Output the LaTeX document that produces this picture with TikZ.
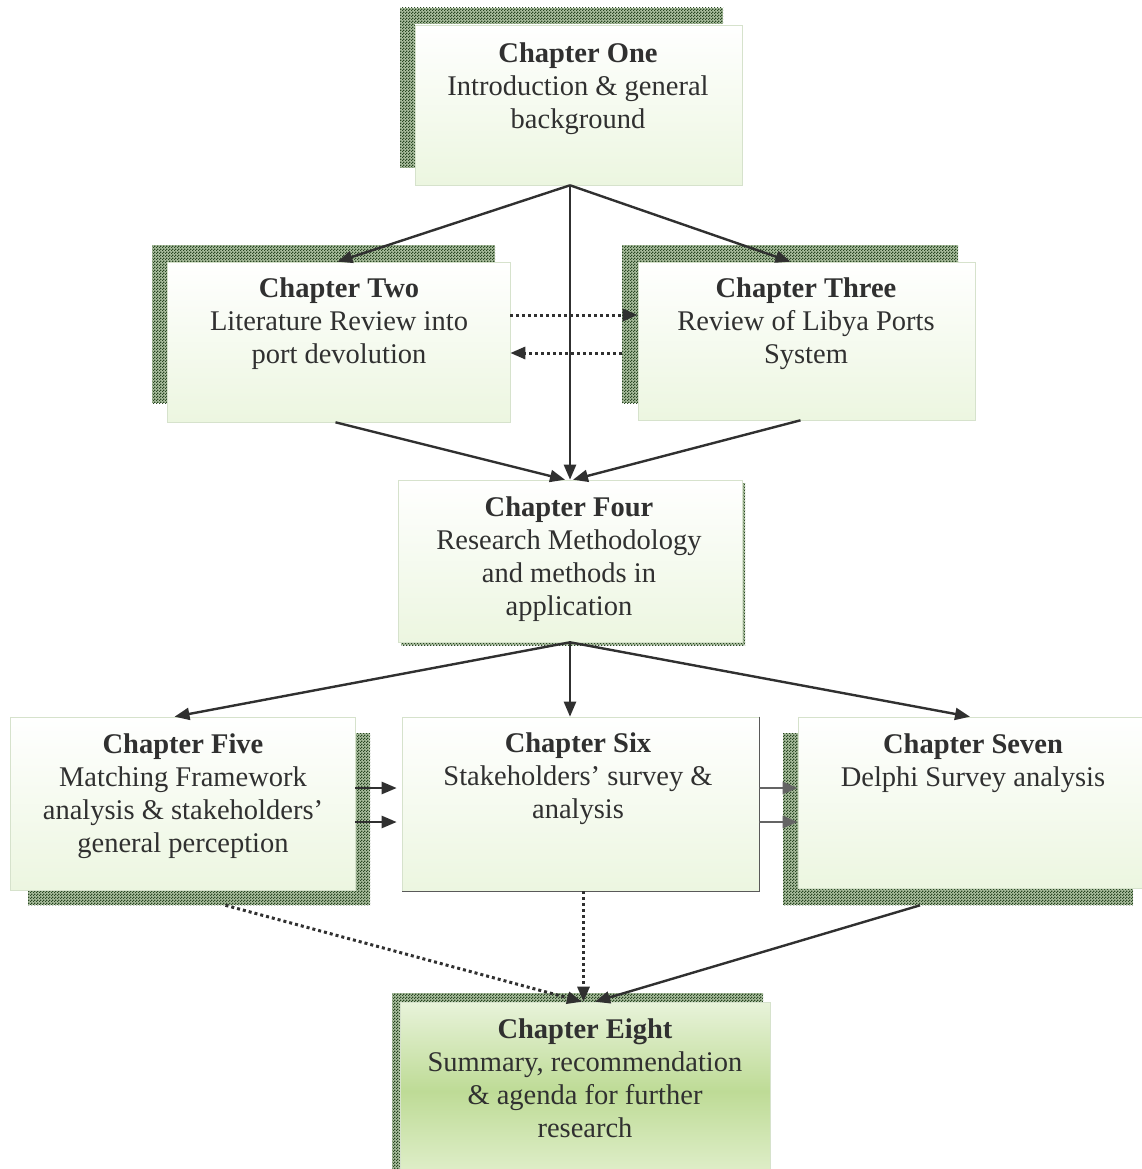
\documentclass[tikz,border=0pt]{standalone}
\usepackage{fontspec}
\setmainfont{Liberation Serif}
\usetikzlibrary{arrows.meta,patterns,calc}
\definecolor{ink}{RGB}{48,48,48}
\definecolor{hatch}{RGB}{40,70,34}
\definecolor{hatchbg}{RGB}{172,192,160}
\definecolor{paleG}{RGB}{236,246,224}
\definecolor{topG}{RGB}{232,243,218}
\definecolor{midG}{RGB}{190,219,150}
\definecolor{lowG}{RGB}{226,240,206}
\definecolor{edgeG}{RGB}{214,226,204}
% fine checkered fill used for the box shadows
\pgfdeclarepatternformonly{finecheck}{\pgfqpoint{0pt}{0pt}}{\pgfqpoint{3pt}{3pt}}{\pgfqpoint{3pt}{3pt}}{%
  \pgfpathrectangle{\pgfqpoint{0pt}{0pt}}{\pgfqpoint{1.5pt}{1.5pt}}%
  \pgfpathrectangle{\pgfqpoint{1.5pt}{1.5pt}}{\pgfqpoint{1.5pt}{1.5pt}}%
  \pgfusepath{fill}}
\tikzset{
  chapbox/.style={rectangle, inner sep=0pt, draw=edgeG, line width=0.6pt,
    top color=white, bottom color=paleG},
  finalbox/.style={rectangle, inner sep=0pt, draw=edgeG, line width=0.6pt,
    top color=topG, bottom color=lowG, middle color=midG},
  shadowbox/.style={fill=hatchbg, postaction={pattern=finecheck, pattern color=hatch}},
  chaptext/.style={anchor=north, inner sep=0pt, align=center, text=ink,
    font=\fontsize{28.5}{33}\selectfont},
  conn/.style={draw=ink, line width=2.4pt, -{Triangle[length=15pt,width=12pt]}},
  dotconn/.style={conn, line width=3pt, dash pattern=on 3pt off 3pt},
}
\begin{document}
\begin{tikzpicture}[x=1pt,y=-1pt]
\useasboundingbox (0,0) rectangle (1141,1169);

% shadows behind the chapter boxes
\path[shadowbox] (400,8) rectangle (723,168);
\path[shadowbox] (152,245) rectangle (495,403);
\path[shadowbox] (622,245) rectangle (958,403);
\path[shadowbox] (401,483) rectangle (745,645);
\path[shadowbox] (28,733) rectangle (370,905);
\path[shadowbox] (783,733) rectangle (1133,905);
\path[shadowbox] (392,993) rectangle (763,1175);

% chapter boxes
\node[chapbox, minimum width=327pt, minimum height=160pt] (c1) at (578.5,105) {};
\node[chapbox, minimum width=343pt, minimum height=160pt] (c2) at (338.5,342) {};
\node[chapbox, minimum width=337pt, minimum height=158pt] (c3) at (806.5,341) {};
\node[chapbox, minimum width=344pt, minimum height=162pt] (c4) at (570,561) {};
\node[chapbox, minimum width=345pt, minimum height=173pt] (c5) at (182.5,803.5) {};
\node[chapbox, minimum width=357pt, minimum height=174pt] (c6) at (580.5,804) {};
\node[chapbox, minimum width=352pt, minimum height=171pt] (c7) at (974,802.5) {};
\node[finalbox, minimum width=370pt, minimum height=178pt] (c8) at (585,1091) {};

% edge line on chapter six
\draw[gray!70!black, line width=1pt] (c6.north east) -- (c6.south east) -- (c6.south west);

% chapter titles
\node[chaptext] (t1) at (578,43) {\textbf{Chapter One}\\Introduction \& general\\background};
\node[chaptext] (t2) at (339,278) {\textbf{Chapter Two}\\Literature Review into\\port devolution};
\node[chaptext] (t3) at (806,278) {\textbf{Chapter Three}\\Review of Libya Ports\\System};
\node[chaptext] (t4) at (569,497) {\textbf{Chapter Four}\\Research Methodology\\and methods in\\application};
\node[chaptext] (t5) at (183,734) {\textbf{Chapter Five}\\Matching Framework\\analysis \& stakeholders’\\general perception};
\node[chaptext] (t6) at (578,733) {\textbf{Chapter Six}\\Stakeholders’ survey \&\\analysis};
\node[chaptext] (t7) at (973,734) {\textbf{Chapter Seven}\\Delphi Survey analysis};
\node[chaptext] (t8) at (585,1019) {\textbf{Chapter Eight}\\Summary, recommendation\\\& agenda for further\\research};

% connectors from chapter one
\coordinate (hub1) at (c4.north |- c1.south);
\draw[conn] (hub1) -- ($(c2.north)+(-1,0)$);
\draw[conn] (hub1) -- ($(c3.north)+(-16,0)$);
\draw[conn] (hub1) -- (c4.north);

% between chapters two and three
\draw[dotconn] ($(c2.east)+(0,-27)$) -- ($(c3.west)+(0,-26)$);
\draw[dotconn] ($(c3.west)+(-16,12)$) -- ($(c2.east)+(0,11)$);

% into chapter four
\draw[conn] ($(c2.south)+(-3,0)$) -- ($(c4.north)+(-5,0)$);
\draw[conn] ($(c3.south)+(-6,0)$) -- ($(c4.north)+(3,0)$);

% from chapter four
\draw[conn] (c4.south) -- ($(c5.north)+(-8,0)$);
\draw[conn] (c4.south) -- (c4.south |- c6.north);
\draw[conn] (c4.south) -- ($(c7.north)+(-4,0)$);

% chapter five to six, six to seven
\draw[conn] ($(c5.east)+(0,-15.5)$) -- ($(c6.west)+(-5,-16)$);
\draw[conn] ($(c5.east)+(0,18.5)$) -- ($(c6.west)+(-5,18)$);
\draw[conn, draw=ink!75] ($(c6.east)+(0,-16)$) -- ($(c7.west)+(0,-14.5)$);
\draw[conn, draw=ink!75] ($(c6.east)+(0,18)$) -- ($(c7.west)+(0,19.5)$);

% into chapter eight
\coordinate (s5) at ($(c5.south)+(43,15)$);
\coordinate (s6) at ($(c6.south)+(3,0)$);
\coordinate (s7) at ($(c7.south)+(-54,17)$);
\draw[dotconn] (s5) -- ($(c8.north)+(-3,0)$);
\draw[dotconn] (s6) -- (s6 |- c8.north);
\draw[conn] (s7) -- ($(c8.north)+(10,0)$);
\end{tikzpicture}
\end{document}
